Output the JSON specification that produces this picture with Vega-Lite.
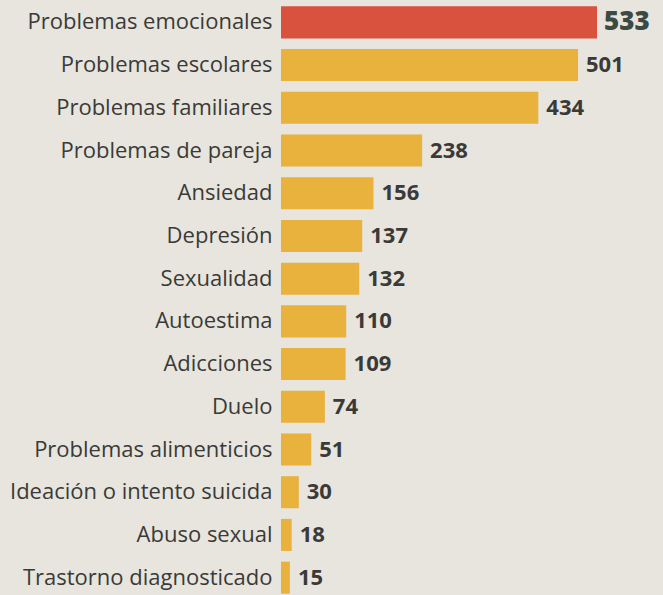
{
  "$schema": "https://vega.github.io/schema/vega-lite/v6.json",
  "width": 316,
  "height": 598,
  "autosize": {"type": "none"},
  "padding": {"left": 281, "top": 1, "right": 66, "bottom": 0},
  "background": "#e7e5dd",
  "config": {"view": {"stroke": null}},
  "data": {"values": [
    {"tema": "Problemas emocionales", "casos": 533},
    {"tema": "Problemas escolares", "casos": 501},
    {"tema": "Problemas familiares", "casos": 434},
    {"tema": "Problemas de pareja", "casos": 238},
    {"tema": "Ansiedad", "casos": 156},
    {"tema": "Depresión", "casos": 137},
    {"tema": "Sexualidad", "casos": 132},
    {"tema": "Autoestima", "casos": 110},
    {"tema": "Adicciones", "casos": 109},
    {"tema": "Duelo", "casos": 74},
    {"tema": "Problemas alimenticios", "casos": 51},
    {"tema": "Ideación o intento suicida", "casos": 30},
    {"tema": "Abuso sexual", "casos": 18},
    {"tema": "Trastorno diagnosticado", "casos": 15}
  ]},
  "encoding": {
    "y": {"field": "tema", "type": "nominal",
      "sort": ["Problemas emocionales", "Problemas escolares", "Problemas familiares", "Problemas de pareja", "Ansiedad", "Depresión", "Sexualidad", "Autoestima", "Adicciones", "Duelo", "Problemas alimenticios", "Ideación o intento suicida", "Abuso sexual", "Trastorno diagnosticado"],
      "scale": {"paddingInner": 0.25, "paddingOuter": 0.125},
      "axis": {"title": null, "domain": false, "ticks": false, "labelPadding": 9,
        "labelFont": "Open Sans", "labelFontSize": 22, "labelColor": "#3a3a38", "labelLimit": 300}},
    "x": {"field": "casos", "type": "quantitative", "scale": {"domain": [0, 533]}, "axis": null}
  },
  "layer": [
    {"mark": {"type": "bar"},
     "encoding": {"color": {"condition": {"test": "datum.casos >= 533", "value": "#d9523d"}, "value": "#e8b23d"}}},
    {"transform": [{"filter": "datum.casos < 533"}],
     "mark": {"type": "text", "align": "left", "dx": 8, "font": "Open Sans", "fontSize": 22, "fontWeight": "bold", "color": "#3a3a38"},
     "encoding": {"text": {"field": "casos", "type": "quantitative"}}},
    {"transform": [{"filter": "datum.casos >= 533"}],
     "mark": {"type": "text", "align": "left", "dx": 7, "font": "Open Sans", "fontSize": 26, "fontWeight": 800, "color": "#3b4a43"},
     "encoding": {"text": {"field": "casos", "type": "quantitative"}}}
  ]
}
